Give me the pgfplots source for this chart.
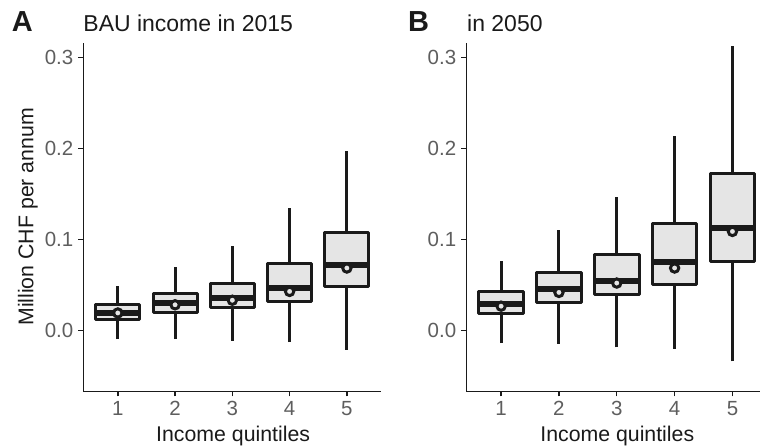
\documentclass[border=0pt]{standalone}
\usepackage{fontspec}
\setmainfont{Liberation Sans}
\usepackage{pgfplots}
\pgfplotsset{compat=1.18}

\definecolor{boxfill}{HTML}{E5E5E5}
\definecolor{ink}{HTML}{1A1A1A}
\definecolor{ticktext}{HTML}{5E5E5E}

\newcommand{\tickfont}{\fontsize{20.5bp}{24bp}\selectfont}
\newcommand{\labfont}{\fontsize{21.3bp}{25bp}\selectfont}

\pgfplotsset{
  panel/.style={
    scale only axis,
    height=349bp,
    ymin=-0.0667, ymax=0.3165,
    axis x line=bottom, axis y line=left,
    axis line style={-, ink, line width=1.6bp},
    tick align=outside,
    major tick length=5bp,
    tick style={ink, line width=1.4bp},
    ytick={0,0.1,0.2,0.3},
    yticklabels={0.0,0.1,0.2,0.3},
    xtick={1,2,3,4,5},
    xticklabels={1,2,3,4,5},
    tick label style={font=\tickfont, text=ticktext, inner sep=0pt},
    xticklabel style={yshift=-5bp},
    yticklabel style={xshift=-5bp},
  },
  means/.style={only marks, mark=*, mark size=4.2bp,
    mark options={fill=boxfill, draw=ink, line width=3bp}},
}

% box from its five numbers: position, lw, lq, median, uq, uw
\newcommand{\pbox}[6]{%
  \pgfmathsetmacro{\xa}{#1-0.385}%
  \pgfmathsetmacro{\xb}{#1+0.385}%
  \edef\temp{\noexpand\addplot[ink, line width=3bp] coordinates {(#1,#5) (#1,#6)};
    \noexpand\addplot[ink, line width=3bp] coordinates {(#1,#2) (#1,#3)};
    \noexpand\addplot[ink, fill=boxfill, line width=3bp, line join=round]
      coordinates {(\xa,#3) (\xb,#3) (\xb,#5) (\xa,#5)} -- cycle;
    \noexpand\addplot[ink, line width=6bp] coordinates {(\xa,#4) (\xb,#4)};}%
  \temp
}

\begin{document}
\begin{tikzpicture}
\path (0,0) (761bp,448bp);

% panel A: 2015
\begin{axis}[panel, at={(83.5bp,56.3bp)}, anchor=south west,
  width=298bp, xmin=0.4, xmax=5.6]
\pbox{1}{-0.0091}{0.0121}{0.0195}{0.0290}{0.0487}
\pbox{2}{-0.0092}{0.0203}{0.0300}{0.0414}{0.0696}
\pbox{3}{-0.0110}{0.0260}{0.0359}{0.0524}{0.0927}
\pbox{4}{-0.0124}{0.0322}{0.0469}{0.0744}{0.1348}
\pbox{5}{-0.0209}{0.0487}{0.0718}{0.1084}{0.1970}
\addplot[means] coordinates {
  (1,0.0195) (2,0.0285) (3,0.0335) (4,0.0432) (5,0.0689)};
\end{axis}

% panel B: 2050
\begin{axis}[panel, at={(466.7bp,56.3bp)}, anchor=south west,
  width=294bp, xmin=0.4, xmax=5.48]
\pbox{1}{-0.0136}{0.0194}{0.0297}{0.0432}{0.0762}
\pbox{2}{-0.0143}{0.0315}{0.0462}{0.0640}{0.1110}
\pbox{3}{-0.0183}{0.0399}{0.0550}{0.0835}{0.1470}
\pbox{4}{-0.0198}{0.0505}{0.0755}{0.1183}{0.2143}
\pbox{5}{-0.0337}{0.0760}{0.1134}{0.1725}{0.3132}
\addplot[means] coordinates {
  (1,0.0270) (2,0.0421) (3,0.0524) (4,0.0689) (5,0.1091)};
\end{axis}

% titles and axis labels
\node[anchor=base west, inner sep=0pt, font=\fontsize{29bp}{32bp}\selectfont\bfseries, text=ink]
  at (11.7bp,416.3bp) {A};
\node[anchor=base west, inner sep=0pt, font=\fontsize{23bp}{27bp}\selectfont, text=ink]
  at (83.3bp,416.3bp) {BAU income in 2015};
\node[anchor=base west, inner sep=0pt, font=\fontsize{29bp}{32bp}\selectfont\bfseries, text=ink]
  at (408.3bp,416.3bp) {B};
\node[anchor=base west, inner sep=0pt, font=\fontsize{23bp}{27bp}\selectfont, text=ink]
  at (467.3bp,416.3bp) {in 2050};
\node[anchor=base, rotate=90, inner sep=0pt, font=\labfont, text=ink]
  at (33.3bp,231bp) {Million CHF per annum};
\node[anchor=base, inner sep=0pt, font=\labfont, text=ink]
  at (233.3bp,6.3bp) {Income quintiles};
\node[anchor=base, inner sep=0pt, font=\labfont, text=ink]
  at (617.7bp,6.3bp) {Income quintiles};
\end{tikzpicture}
\end{document}
